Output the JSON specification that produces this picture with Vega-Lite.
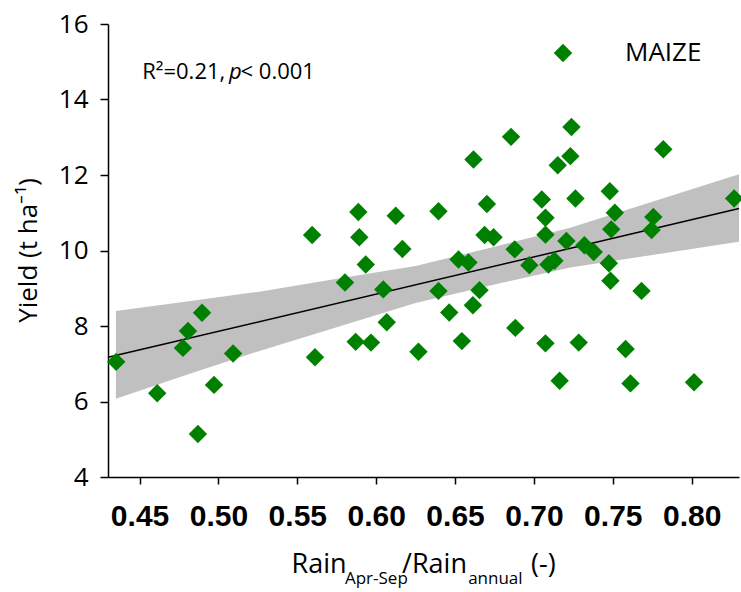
{
  "$schema": "https://vega.github.io/schema/vega-lite/v6.json",
  "width": 631,
  "height": 453,
  "autosize": {"type": "none"},
  "padding": {"left": 108, "top": 24, "right": 2, "bottom": 115},
  "background": "white",
  "config": {"view": {"stroke": null}, "font": "Open Sans"},
  "encoding": {
    "x": {
      "field": "x", "type": "quantitative",
      "scale": {"domain": [0.43, 0.83], "nice": false, "zero": false},
      "axis": {
        "title": null,
        "values": [0.45, 0.5, 0.55, 0.6, 0.65, 0.7, 0.75, 0.8],
        "format": ".2f",
        "grid": false,
        "domainColor": "black", "domainWidth": 1.5,
        "tickColor": "black", "tickWidth": 1.5, "tickSize": 7,
        "labelFont": "Liberation Sans Narrow, Arial Narrow, Liberation Sans",
        "labelFontWeight": "bold", "labelFontSize": 30, "labelColor": "black",
        "labelPadding": 17, "labelFlush": false, "labelOverlap": false
      }
    },
    "y": {
      "field": "y", "type": "quantitative",
      "scale": {"domain": [4, 16], "nice": false, "zero": false},
      "axis": {
        "title": "Yield (t ha⁻¹)",
        "values": [4, 6, 8, 10, 12, 14, 16],
        "grid": false,
        "domainColor": "black", "domainWidth": 1.5,
        "tickColor": "black", "tickWidth": 1.5, "tickSize": 8,
        "labelFont": "Open Sans", "labelFontSize": 26, "labelColor": "black",
        "labelPadding": 12, "labelFlush": false, "labelOverlap": false,
        "titleFont": "Open Sans", "titleFontSize": 26, "titleFontWeight": "normal",
        "titleColor": "black", "titleAngle": -90, "titleBaseline": "alphabetic",
        "titleAlign": "center", "titleX": -72, "titleY": 226
      }
    }
  },
  "layer": [
    {
      "data": {"values": [
        {"x": 0.435, "lo": 6.07, "hi": 8.40},
        {"x": 0.48, "lo": 6.71, "hi": 8.65},
        {"x": 0.526, "lo": 7.34, "hi": 8.91},
        {"x": 0.575, "lo": 7.97, "hi": 9.25},
        {"x": 0.625, "lo": 8.61, "hi": 9.59},
        {"x": 0.675, "lo": 9.10, "hi": 10.10},
        {"x": 0.723, "lo": 9.55, "hi": 10.60},
        {"x": 0.775, "lo": 9.88, "hi": 11.29},
        {"x": 0.83, "lo": 10.23, "hi": 12.02}
      ]},
      "mark": {"type": "area", "color": "#c0c0c0", "opacity": 1},
      "encoding": {
        "y": {"field": "lo", "type": "quantitative"},
        "y2": {"field": "hi"}
      }
    },
    {
      "data": {"values": [
        {"x": 0.43, "y": 7.17},
        {"x": 0.83, "y": 11.11}
      ]},
      "mark": {"type": "line", "color": "black", "strokeWidth": 1.5}
    },
    {
      "data": {"values": [
        {"x": 0.4352, "y": 7.05, "crop": "MAIZE"},
        {"x": 0.4612, "y": 6.22, "crop": "MAIZE"},
        {"x": 0.4775, "y": 7.42, "crop": "MAIZE"},
        {"x": 0.4807, "y": 7.87, "crop": "MAIZE"},
        {"x": 0.4896, "y": 8.35, "crop": "MAIZE"},
        {"x": 0.5093, "y": 7.27, "crop": "MAIZE"},
        {"x": 0.4972, "y": 6.44, "crop": "MAIZE"},
        {"x": 0.487, "y": 5.14, "crop": "MAIZE"},
        {"x": 0.5594, "y": 10.41, "crop": "MAIZE"},
        {"x": 0.5887, "y": 11.02, "crop": "MAIZE"},
        {"x": 0.5893, "y": 10.35, "crop": "MAIZE"},
        {"x": 0.6124, "y": 10.92, "crop": "MAIZE"},
        {"x": 0.6166, "y": 10.04, "crop": "MAIZE"},
        {"x": 0.5934, "y": 9.63, "crop": "MAIZE"},
        {"x": 0.5802, "y": 9.15, "crop": "MAIZE"},
        {"x": 0.6045, "y": 8.97, "crop": "MAIZE"},
        {"x": 0.6067, "y": 8.10, "crop": "MAIZE"},
        {"x": 0.587, "y": 7.58, "crop": "MAIZE"},
        {"x": 0.5967, "y": 7.56, "crop": "MAIZE"},
        {"x": 0.5612, "y": 7.17, "crop": "MAIZE"},
        {"x": 0.6268, "y": 7.32, "crop": "MAIZE"},
        {"x": 0.6855, "y": 13.01, "crop": "MAIZE"},
        {"x": 0.7238, "y": 13.27, "crop": "MAIZE"},
        {"x": 0.6617, "y": 12.41, "crop": "MAIZE"},
        {"x": 0.7151, "y": 12.26, "crop": "MAIZE"},
        {"x": 0.7231, "y": 12.50, "crop": "MAIZE"},
        {"x": 0.6395, "y": 11.04, "crop": "MAIZE"},
        {"x": 0.6702, "y": 11.23, "crop": "MAIZE"},
        {"x": 0.705, "y": 11.35, "crop": "MAIZE"},
        {"x": 0.7263, "y": 11.38, "crop": "MAIZE"},
        {"x": 0.7073, "y": 10.87, "crop": "MAIZE"},
        {"x": 0.6687, "y": 10.41, "crop": "MAIZE"},
        {"x": 0.6744, "y": 10.35, "crop": "MAIZE"},
        {"x": 0.7073, "y": 10.42, "crop": "MAIZE"},
        {"x": 0.7206, "y": 10.25, "crop": "MAIZE"},
        {"x": 0.6878, "y": 10.03, "crop": "MAIZE"},
        {"x": 0.6522, "y": 9.76, "crop": "MAIZE"},
        {"x": 0.6585, "y": 9.68, "crop": "MAIZE"},
        {"x": 0.6971, "y": 9.61, "crop": "MAIZE"},
        {"x": 0.7092, "y": 9.63, "crop": "MAIZE"},
        {"x": 0.713, "y": 9.73, "crop": "MAIZE"},
        {"x": 0.6395, "y": 8.93, "crop": "MAIZE"},
        {"x": 0.6655, "y": 8.95, "crop": "MAIZE"},
        {"x": 0.6613, "y": 8.55, "crop": "MAIZE"},
        {"x": 0.6463, "y": 8.36, "crop": "MAIZE"},
        {"x": 0.6882, "y": 7.95, "crop": "MAIZE"},
        {"x": 0.6543, "y": 7.60, "crop": "MAIZE"},
        {"x": 0.7073, "y": 7.54, "crop": "MAIZE"},
        {"x": 0.7163, "y": 6.55, "crop": "MAIZE"},
        {"x": 0.7284, "y": 7.56, "crop": "MAIZE"},
        {"x": 0.782, "y": 12.68, "crop": "MAIZE"},
        {"x": 0.7481, "y": 11.57, "crop": "MAIZE"},
        {"x": 0.7513, "y": 11.00, "crop": "MAIZE"},
        {"x": 0.749, "y": 10.56, "crop": "MAIZE"},
        {"x": 0.7757, "y": 10.89, "crop": "MAIZE"},
        {"x": 0.7746, "y": 10.54, "crop": "MAIZE"},
        {"x": 0.8269, "y": 11.38, "crop": "MAIZE"},
        {"x": 0.732, "y": 10.14, "crop": "MAIZE"},
        {"x": 0.7379, "y": 9.96, "crop": "MAIZE"},
        {"x": 0.7475, "y": 9.66, "crop": "MAIZE"},
        {"x": 0.7485, "y": 9.20, "crop": "MAIZE"},
        {"x": 0.7682, "y": 8.93, "crop": "MAIZE"},
        {"x": 0.7581, "y": 7.39, "crop": "MAIZE"},
        {"x": 0.7612, "y": 6.48, "crop": "MAIZE"},
        {"x": 0.8015, "y": 6.51, "crop": "MAIZE"}
      ]},
      "mark": {"type": "point", "shape": "diamond", "filled": true, "size": 340, "opacity": 1},
      "encoding": {
        "color": {
          "field": "crop", "type": "nominal",
          "scale": {"range": ["#008000"]},
          "legend": {
            "orient": "none", "legendX": 442, "legendY": 16,
            "title": null, "padding": 0,
            "labelFont": "Open Sans", "labelFontSize": 26, "labelColor": "black",
            "labelOffset": 49, "symbolSize": 340, "symbolType": "diamond",
            "symbolOpacity": 1, "symbolStrokeWidth": 0
          }
        }
      }
    },
    {
      "data": {"values": [
        {"x": 0.5464, "y": 1.46, "label": "Rain"},
        {"x": 0.6164, "y": 1.46, "label": "/Rain"},
        {"x": 0.6982, "y": 1.46, "label": "(-)"}
      ]},
      "mark": {"type": "text", "align": "left", "baseline": "alphabetic", "font": "Open Sans", "fontSize": 27, "color": "black"},
      "encoding": {"text": {"field": "label"}}
    },
    {
      "data": {"values": [
        {"x": 0.5802, "y": 1.17, "label": "Apr-Sep"},
        {"x": 0.6583, "y": 1.17, "label": "annual"}
      ]},
      "mark": {"type": "text", "align": "left", "baseline": "alphabetic", "font": "Open Sans", "fontSize": 17, "color": "black"},
      "encoding": {"text": {"field": "label"}}
    },
    {
      "data": {"values": [
        {"x": 0.4517, "y": 14.555, "label": "R²=0.21,"},
        {"x": 0.514, "y": 14.555, "label": "< 0.001"}
      ]},
      "mark": {"type": "text", "align": "left", "baseline": "alphabetic", "font": "Open Sans", "fontSize": 22, "color": "black"},
      "encoding": {"text": {"field": "label"}}
    },
    {
      "data": {"values": [
        {"x": 0.5067, "y": 14.555, "label": "p"}
      ]},
      "mark": {"type": "text", "align": "left", "baseline": "alphabetic", "font": "Open Sans", "fontSize": 22, "fontStyle": "italic", "color": "black"},
      "encoding": {"text": {"field": "label"}}
    }
  ]
}
